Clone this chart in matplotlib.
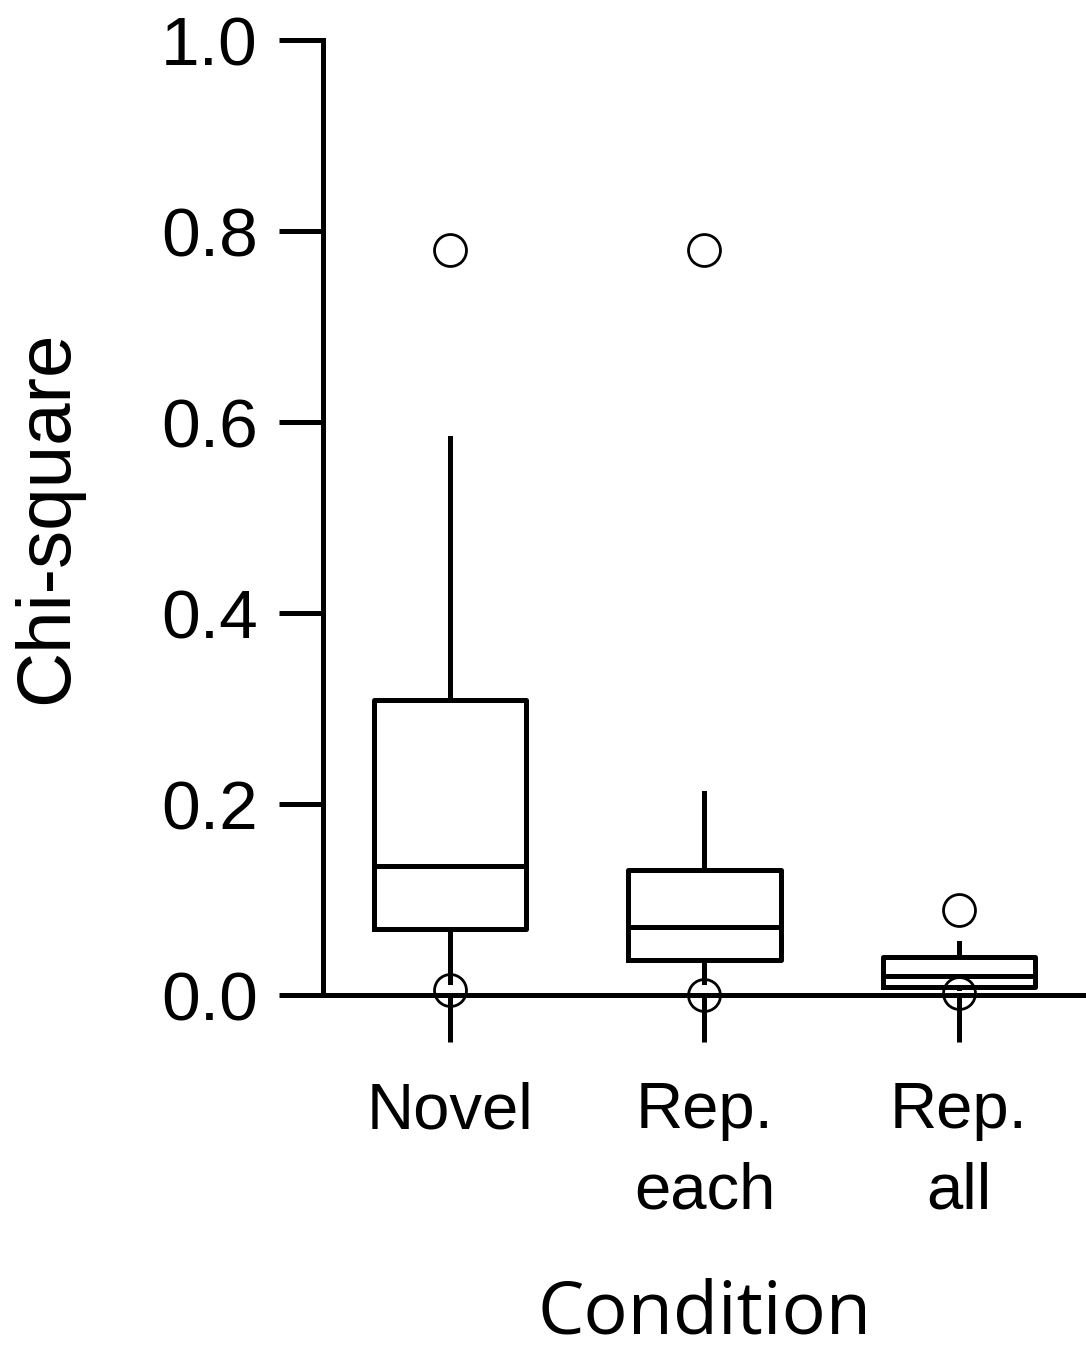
import matplotlib
matplotlib.use("Agg")
import matplotlib.pyplot as plt

plt.rcParams['font.family'] = ['Liberation Sans', 'DejaVu Sans']

categories = ["Novel", "Rep.\neach", "Rep.\nall"]
q1 = [0.069, 0.037, 0.008]
med = [0.135, 0.071, 0.020]
q3 = [0.309, 0.131, 0.040]
whislo = [0.014, 0.014, 0.007]
whishi = [0.583, 0.212, 0.055]
fliers = [[0.78, 0.005], [0.78, 0.0], [0.089, 0.002]]
yticks = [0.0, 0.2, 0.4, 0.6, 0.8, 1.0]

stats = []
for i, c in enumerate(categories):
    stats.append(dict(label=c, q1=q1[i], med=med[i], q3=q3[i],
                      whislo=whislo[i], whishi=whishi[i], fliers=fliers[i]))

fig = plt.figure(figsize=(10.86, 13.61), dpi=100)
ax = fig.add_axes([0.2974, 0.2689, 0.7026, 0.7017])

lw = 3.6
bp = ax.bxp(stats, positions=[1, 2, 3], widths=0.6, showcaps=False,
            boxprops=dict(color='black', linewidth=lw, solid_joinstyle='round'),
            medianprops=dict(color='black', linewidth=lw),
            whiskerprops=dict(color='black', linewidth=lw),
            flierprops=dict(marker='o', markersize=23, markerfacecolor='none',
                            markeredgecolor='black', markeredgewidth=2.0))
for f in bp['fliers']:
    f.set_clip_on(False)

ax.set_xlim(0.5, 3.5)
ax.set_ylim(0, 1.0)
ax.set_yticks(yticks)
ax.set_yticklabels([f"{v:.1f}" for v in yticks])
ax.spines['top'].set_visible(False)
ax.spines['right'].set_visible(False)
ax.spines['left'].set_linewidth(lw)
ax.spines['bottom'].set_linewidth(lw)
ax.tick_params(axis='y', direction='out', length=32, width=lw, labelsize=50, pad=15)
ax.tick_params(axis='x', direction='out', length=34, width=lw, labelsize=47, pad=28)
for t in ax.get_xticklabels():
    t.set_linespacing(1.44)
ax.set_ylabel("Chi-square", fontsize=55, labelpad=56)
ax.set_xlabel("Condition", fontsize=53, labelpad=40, family=['Open Sans', 'DejaVu Sans'])

fig.savefig("out.png", dpi=100)
